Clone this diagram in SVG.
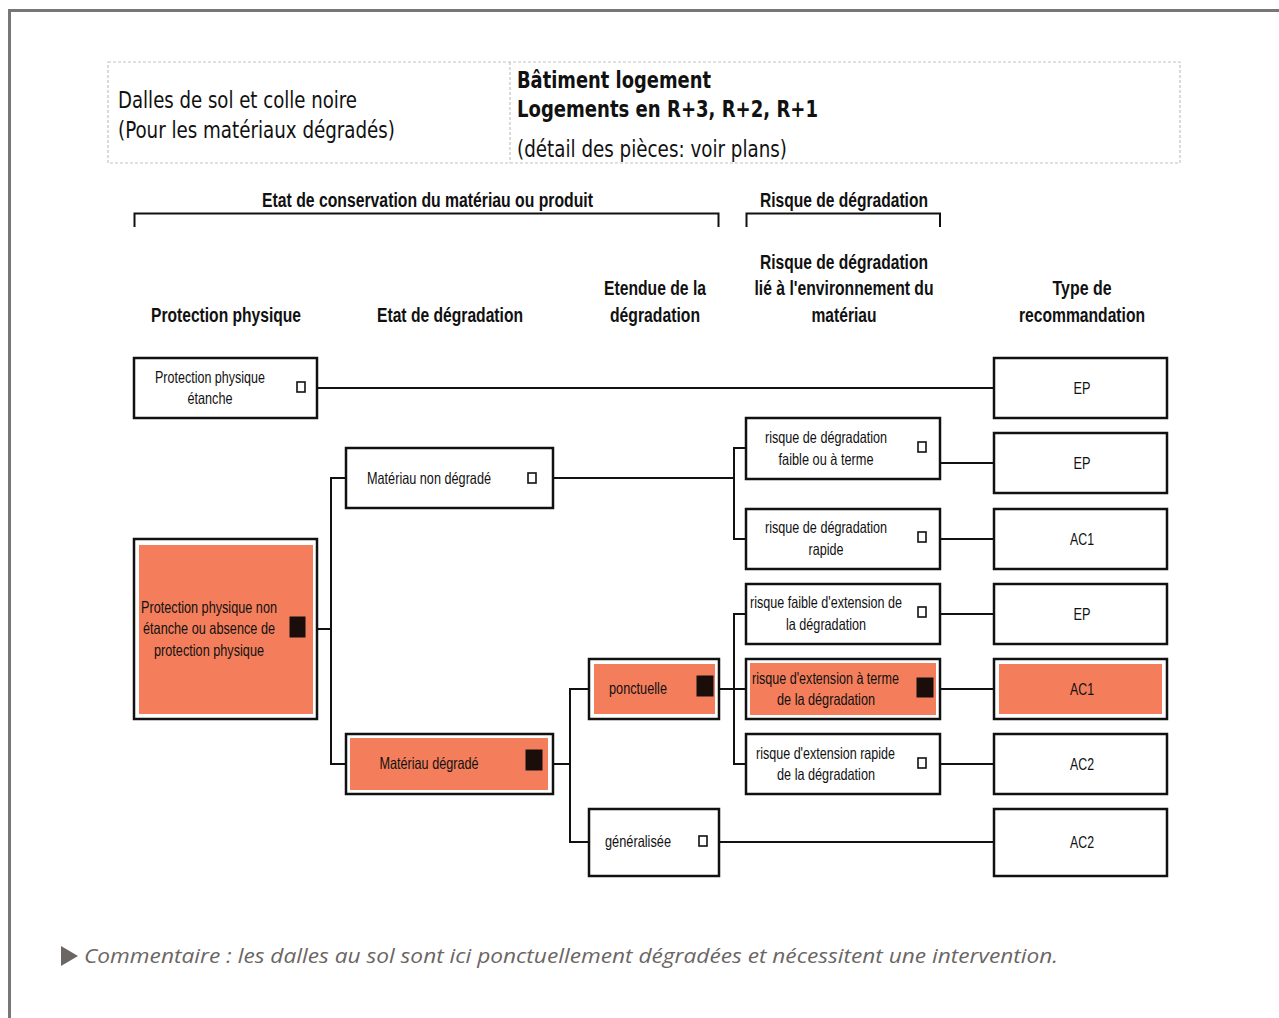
<svg xmlns="http://www.w3.org/2000/svg" width="1279" height="1018" viewBox="0 0 1279 1018">
<style>
.frame{stroke:#777;stroke-width:3;fill:none}
.tbl{stroke:#c4c4c4;stroke-width:1.2;fill:none;stroke-dasharray:3 2}
.box{fill:#fff;stroke:#111;stroke-width:2.5}
.hl{fill:#f47e5b}
.cb{fill:#fff;stroke:#111;stroke-width:1.6}
.cbf{fill:#1a0d0a;stroke:#111;stroke-width:1}
.ln{stroke:#111;stroke-width:2;fill:none}
.hd{font-family:"Liberation Sans",Arial,sans-serif;font-weight:bold;font-size:20px;fill:#111}
.nt{font-family:"Liberation Sans",Arial,sans-serif;font-size:16.5px;fill:#111}
.tt{font-family:"DejaVu Sans Condensed","DejaVu Sans",sans-serif;font-size:23px;fill:#111}
.ttb{font-family:"DejaVu Sans Condensed","DejaVu Sans",sans-serif;font-size:23px;font-weight:bold;fill:#111}
.cm{font-family:"Open Sans","Noto Sans",sans-serif;font-style:italic;font-size:20px;fill:#6b6664}
</style>
<rect width="1279" height="1018" fill="#fff"/>
<path class="frame" d="M9.5,1018 V10.5 H1279"/>

<g id="header-table">
<rect class="tbl" x="108" y="62" width="1072" height="101"/>
<line class="tbl" x1="510" y1="62" x2="510" y2="163"/>
<text class="tt" x="118" y="108" textLength="239" lengthAdjust="spacingAndGlyphs">Dalles de sol et colle noire</text>
<text class="tt" x="118" y="138" textLength="277" lengthAdjust="spacingAndGlyphs">(Pour les matériaux dégradés)</text>
<text class="ttb" x="517" y="88" textLength="194" lengthAdjust="spacingAndGlyphs">Bâtiment logement</text>
<text class="ttb" x="517" y="117" textLength="301" lengthAdjust="spacingAndGlyphs">Logements en R+3, R+2, R+1</text>
<text class="tt" x="517" y="157" textLength="270" lengthAdjust="spacingAndGlyphs">(détail des pièces: voir plans)</text>
</g>

<g id="section-headers" text-anchor="middle">
<text class="hd" x="427.5" y="207" textLength="331" lengthAdjust="spacingAndGlyphs">Etat de conservation du matériau ou produit</text>
<path class="ln" d="M134.5,227 V213.5 H718.5 V227"/>
<text class="hd" x="844" y="207" textLength="168" lengthAdjust="spacingAndGlyphs">Risque de dégradation</text>
<path class="ln" d="M746.5,227 V213.5 H940 V227"/>
</g>

<g id="column-headers" text-anchor="middle">
<text class="hd" x="226" y="322" textLength="150" lengthAdjust="spacingAndGlyphs">Protection physique</text>
<text class="hd" x="450" y="322" textLength="146" lengthAdjust="spacingAndGlyphs">Etat de dégradation</text>
<text class="hd" x="655" y="295" textLength="102" lengthAdjust="spacingAndGlyphs">Etendue de la</text>
<text class="hd" x="655" y="322" textLength="90" lengthAdjust="spacingAndGlyphs">dégradation</text>
<text class="hd" x="844" y="269" textLength="168" lengthAdjust="spacingAndGlyphs">Risque de dégradation</text>
<text class="hd" x="844" y="295" textLength="179" lengthAdjust="spacingAndGlyphs">lié à l'environnement du</text>
<text class="hd" x="844" y="322" textLength="65" lengthAdjust="spacingAndGlyphs">matériau</text>
<text class="hd" x="1082" y="295" textLength="59" lengthAdjust="spacingAndGlyphs">Type de</text>
<text class="hd" x="1082" y="322" textLength="126" lengthAdjust="spacingAndGlyphs">recommandation</text>
</g>

<g id="connectors">
<path class="ln" d="M317,388 H994"/>
<path class="ln" d="M317,629 H331 M346,478 H331 V764 H346"/>
<path class="ln" d="M553,478 H734 M746,448 H734 V539 H746"/>
<path class="ln" d="M940,463 H994 M940,539 H994 M940,614 H994 M940,689 H994 M940,764 H994"/>
<path class="ln" d="M553,764 H570 M589,689 H570 V842 H589"/>
<path class="ln" d="M719,689 H734 M746,614 H734 V764 H746 M734,689 H746"/>
<path class="ln" d="M719,842 H994"/>
</g>

<g id="n-etanche">
<rect class="box" x="134" y="358" width="183" height="60"/>
<text class="nt" text-anchor="middle" x="210" y="383" textLength="110" lengthAdjust="spacingAndGlyphs">Protection physique</text>
<text class="nt" text-anchor="middle" x="210" y="404" textLength="45" lengthAdjust="spacingAndGlyphs">étanche</text>
<rect class="cb" x="297" y="382" width="8" height="10"/>
</g>

<g id="n-non-etanche">
<rect class="box" x="134" y="539" width="183" height="180"/>
<rect class="hl" x="139" y="545" width="174" height="169"/>
<text class="nt" text-anchor="middle" x="209" y="613" textLength="136" lengthAdjust="spacingAndGlyphs">Protection physique non</text>
<text class="nt" text-anchor="middle" x="209" y="634" textLength="132" lengthAdjust="spacingAndGlyphs">étanche ou absence de</text>
<text class="nt" text-anchor="middle" x="209" y="656" textLength="110" lengthAdjust="spacingAndGlyphs">protection physique</text>
<rect class="cbf" x="290" y="617" width="15" height="20"/>
</g>

<g id="n-non-degrade">
<rect class="box" x="346" y="448" width="207" height="60"/>
<text class="nt" text-anchor="middle" x="429" y="484" textLength="124" lengthAdjust="spacingAndGlyphs">Matériau non dégradé</text>
<rect class="cb" x="528" y="473" width="8" height="10"/>
</g>

<g id="n-degrade">
<rect class="box" x="346" y="734" width="207" height="60"/>
<rect class="hl" x="350" y="738" width="198" height="52"/>
<text class="nt" text-anchor="middle" x="429" y="769" textLength="99" lengthAdjust="spacingAndGlyphs">Matériau dégradé</text>
<rect class="cbf" x="526" y="750" width="16" height="20"/>
</g>

<g id="n-ponctuelle">
<rect class="box" x="589" y="659" width="130" height="60"/>
<rect class="hl" x="594" y="664" width="121" height="50"/>
<text class="nt" text-anchor="middle" x="638" y="694" textLength="58" lengthAdjust="spacingAndGlyphs">ponctuelle</text>
<rect class="cbf" x="697" y="676" width="16" height="20"/>
</g>

<g id="n-generalisee">
<rect class="box" x="589" y="809" width="130" height="67"/>
<text class="nt" text-anchor="middle" x="638" y="847" textLength="66" lengthAdjust="spacingAndGlyphs">généralisée</text>
<rect class="cb" x="699" y="836" width="8" height="10"/>
</g>

<g id="n-risque-faible-terme">
<rect class="box" x="746" y="418" width="194" height="61"/>
<text class="nt" text-anchor="middle" x="826" y="443" textLength="122" lengthAdjust="spacingAndGlyphs">risque de dégradation</text>
<text class="nt" text-anchor="middle" x="826" y="465" textLength="95" lengthAdjust="spacingAndGlyphs">faible ou à terme</text>
<rect class="cb" x="918" y="442" width="8" height="10"/>
</g>

<g id="n-risque-rapide">
<rect class="box" x="746" y="509" width="194" height="60"/>
<text class="nt" text-anchor="middle" x="826" y="533" textLength="122" lengthAdjust="spacingAndGlyphs">risque de dégradation</text>
<text class="nt" text-anchor="middle" x="826" y="555" textLength="35" lengthAdjust="spacingAndGlyphs">rapide</text>
<rect class="cb" x="918" y="532" width="8" height="10"/>
</g>

<g id="n-ext-faible">
<rect class="box" x="746" y="584" width="194" height="60"/>
<text class="nt" text-anchor="middle" x="826" y="608" textLength="152" lengthAdjust="spacingAndGlyphs">risque faible d'extension de</text>
<text class="nt" text-anchor="middle" x="826" y="630" textLength="80" lengthAdjust="spacingAndGlyphs">la dégradation</text>
<rect class="cb" x="918" y="607" width="8" height="10"/>
</g>

<g id="n-ext-terme">
<rect class="box" x="746" y="659" width="194" height="60"/>
<rect class="hl" x="750" y="663" width="186" height="52"/>
<text class="nt" text-anchor="middle" x="825.5" y="684" textLength="147" lengthAdjust="spacingAndGlyphs">risque d'extension à terme</text>
<text class="nt" text-anchor="middle" x="826" y="705" textLength="98" lengthAdjust="spacingAndGlyphs">de la dégradation</text>
<rect class="cbf" x="917" y="678" width="16" height="19"/>
</g>

<g id="n-ext-rapide">
<rect class="box" x="746" y="734" width="194" height="60"/>
<text class="nt" text-anchor="middle" x="825.5" y="759" textLength="139" lengthAdjust="spacingAndGlyphs">risque d'extension rapide</text>
<text class="nt" text-anchor="middle" x="826" y="780" textLength="98" lengthAdjust="spacingAndGlyphs">de la dégradation</text>
<rect class="cb" x="918" y="758" width="8" height="10"/>
</g>

<g id="r1"><rect class="box" x="994" y="358" width="173" height="60"/><text class="nt" text-anchor="middle" x="1082" y="394" textLength="17" lengthAdjust="spacingAndGlyphs">EP</text></g>
<g id="r2"><rect class="box" x="994" y="433" width="173" height="60"/><text class="nt" text-anchor="middle" x="1082" y="469" textLength="17" lengthAdjust="spacingAndGlyphs">EP</text></g>
<g id="r3"><rect class="box" x="994" y="509" width="173" height="60"/><text class="nt" text-anchor="middle" x="1082" y="545" textLength="24" lengthAdjust="spacingAndGlyphs">AC1</text></g>
<g id="r4"><rect class="box" x="994" y="584" width="173" height="60"/><text class="nt" text-anchor="middle" x="1082" y="620" textLength="17" lengthAdjust="spacingAndGlyphs">EP</text></g>
<g id="r5"><rect class="box" x="994" y="659" width="173" height="60"/><rect class="hl" x="999" y="664" width="163" height="50"/><text class="nt" text-anchor="middle" x="1082" y="695" textLength="24" lengthAdjust="spacingAndGlyphs">AC1</text></g>
<g id="r6"><rect class="box" x="994" y="734" width="173" height="60"/><text class="nt" text-anchor="middle" x="1082" y="770" textLength="24" lengthAdjust="spacingAndGlyphs">AC2</text></g>
<g id="r7"><rect class="box" x="994" y="809" width="173" height="67"/><text class="nt" text-anchor="middle" x="1082" y="848" textLength="24" lengthAdjust="spacingAndGlyphs">AC2</text></g>

<g id="comment">
<path d="M61,946 L78,956 L61,966 Z" fill="#6b6664"/>
<text class="cm" x="84" y="963" textLength="974" lengthAdjust="spacingAndGlyphs">Commentaire : les dalles au sol sont ici ponctuellement dégradées et nécessitent une intervention.</text>
</g>
</svg>
